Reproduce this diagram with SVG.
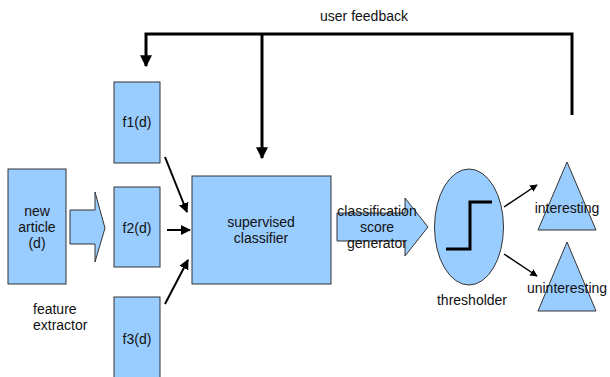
<svg xmlns="http://www.w3.org/2000/svg" width="610" height="377" viewBox="0 0 610 377">
<style>
.s{fill:#99ccff;stroke:#333;stroke-width:1}
text{font-family:"Liberation Sans",Arial,sans-serif;font-size:14px;fill:#111;text-anchor:middle}
.fb{fill:none;stroke:#000;stroke-width:3}
.c{fill:none;stroke:#000;stroke-width:2}
</style>
<defs>
<marker id="ah" viewBox="0 0 10 10" refX="9" refY="5" markerWidth="5" markerHeight="5" orient="auto" markerUnits="strokeWidth"><path d="M0,0L10,5L0,10z" fill="#000"/></marker>
<marker id="ahb" viewBox="0 0 10 10" refX="9" refY="5" markerWidth="4" markerHeight="4" orient="auto" markerUnits="strokeWidth"><path d="M0,0L10,5L0,10z" fill="#000"/></marker>
</defs>
<text x="364" y="21">user feedback</text>
<g id="new_article"><rect class="s" x="8" y="169" width="58" height="115"/><text x="37" y="216">new</text><text x="37" y="232">article</text><text x="37" y="248">(d)</text></g>
<g id="extract_arrow"><path class="s" d="M70,210H95V192L105,228L95,262V244H70z"/></g>
<g id="f1"><rect class="s" x="114" y="82" width="46" height="81"/><text x="137" y="127">f1(d)</text></g>
<g id="f2"><rect class="s" x="114" y="187" width="46" height="80"/><text x="137" y="233">f2(d)</text></g>
<g id="f3"><rect class="s" x="114" y="297" width="46" height="85"/><text x="137" y="344">f3(d)</text></g>
<text x="33" y="314" style="text-anchor:start">feature</text><text x="33" y="330" style="text-anchor:start">extractor</text>
<g id="classifier"><rect class="s" x="192" y="176" width="139" height="108"/><text x="261" y="227">supervised</text><text x="261" y="243">classifier</text></g>
<g id="score_generator"><path class="s" d="M337,213H405V198L428,227L405,256V241H337z"/><text x="377" y="216">classification</text><text x="377" y="232">score</text><text x="377" y="248">generator</text></g>
<g id="thresholder"><ellipse class="s" cx="469" cy="227" rx="34.5" ry="58"/><path d="M446,249H470V202H492" fill="none" stroke="#000" stroke-width="3"/><text x="472" y="305">thresholder</text></g>
<g id="interesting"><path class="s" d="M567,162L596,230H538z"/><text x="567" y="213">interesting</text></g>
<g id="uninteresting"><path class="s" d="M567,242L596,311H538z"/><text x="567" y="293">uninteresting</text></g>
<g id="connectors">
<path class="fb" d="M572,115V34H146V66" marker-end="url(#ahb)"/>
<path class="fb" d="M262,34V158" marker-end="url(#ahb)"/>
<path class="c" d="M165,157L187,212" marker-end="url(#ah)"/>
<path class="c" d="M167,230L190,230" marker-end="url(#ah)"/>
<path class="c" d="M165,304L188,260" marker-end="url(#ah)"/>
<path d="M504,207L537,185" fill="none" stroke="#000" stroke-width="1.5" marker-end="url(#ah)"/>
<path d="M504,254L537,276" fill="none" stroke="#000" stroke-width="1.5" marker-end="url(#ah)"/>
</g>
</svg>
